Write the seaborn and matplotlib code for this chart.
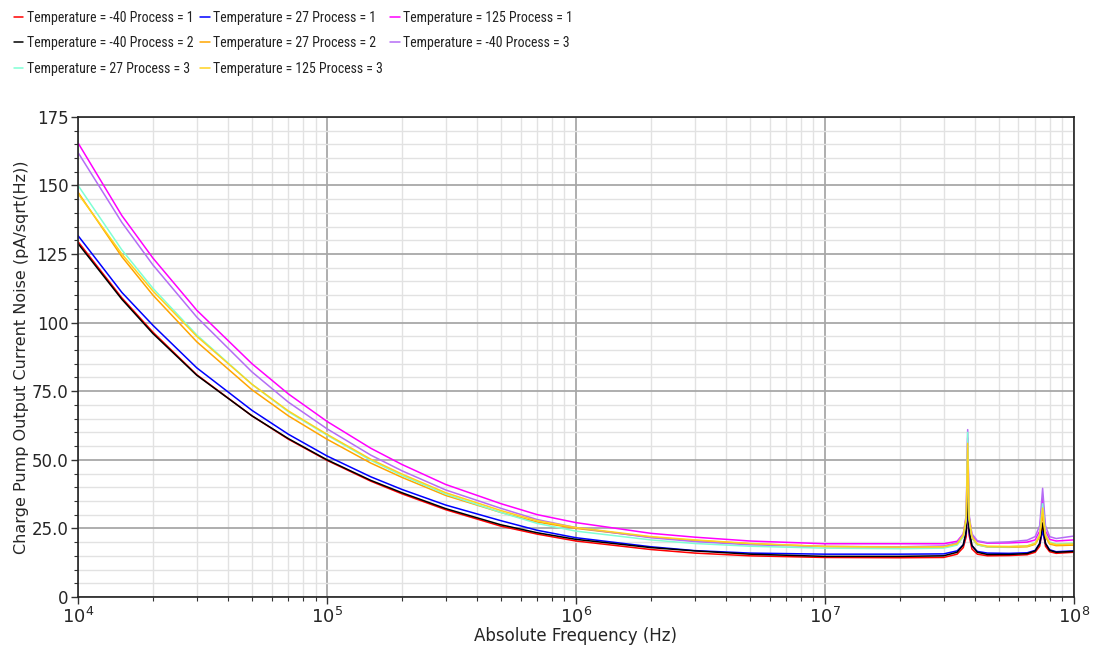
import matplotlib
matplotlib.use("Agg")
import matplotlib.pyplot as plt
from matplotlib import font_manager
from matplotlib.ticker import LogLocator, FixedLocator, NullFormatter
import numpy as np
import pandas as pd
import seaborn as sns

# ---------------- data ----------------
freq = [1e4, 1.5e4, 2e4, 3e4, 5e4, 7e4, 1e5, 1.5e5, 2e5, 3e5, 5e5, 7e5,
        1e6, 2e6, 3e6, 5e6, 1e7, 2e7, 3e7, 3.4e7, 3.6e7, 3.7e7, 3.75e7,
        3.8e7, 3.9e7, 4.1e7, 4.5e7, 5.5e7, 6.5e7, 7e7, 7.3e7, 7.5e7, 7.7e7,
        8e7, 8.5e7, 1e8]

labels = ["Temperature = -40 Process = 1", "Temperature = 27 Process = 1",
          "Temperature = 125 Process = 1", "Temperature = -40 Process = 2",
          "Temperature = 27 Process = 2", "Temperature = -40 Process = 3",
          "Temperature = 27 Process = 3", "Temperature = 125 Process = 3"]

red_m40_p1 = [129.5, 109, 96.5, 81, 66, 57.5, 49.8, 42.2, 37.6, 31.8, 25.8, 22.9,
              20.4, 17.3, 16.0, 15.0, 14.4, 14.3, 14.4, 15.6, 18.0, 22.0, 35.0,
              22.5, 17.5, 15.6, 15.0, 15.1, 15.4, 16.3, 18.5, 25.0, 18.5,
              16.5, 15.9, 16.3]
blue_27_p1 = [131.7, 111, 99, 83.5, 68, 59.3, 51.4, 43.8, 39.2, 33.5, 27.8, 24.3,
              21.6, 18.3, 16.9, 16.0, 15.6, 15.6, 15.7, 16.8, 19.0, 23.5, 34.0,
              23.5, 18.6, 16.6, 16.0, 15.9, 16.1, 17.0, 19.5, 24.0, 19.5,
              17.2, 16.5, 16.8]
mag_125_p1 = [165.5, 139, 123.5, 104.5, 85, 74, 64.0, 54.2, 48.3, 41.0, 34.0, 30.0,
              27.1, 23.2, 21.8, 20.4, 19.4, 19.4, 19.4, 20.3, 23.0, 29.0, 58.0,
              29.0, 22.5, 20.3, 19.6, 19.7, 20.0, 20.8, 24.0, 36.0, 24.0,
              21.0, 20.4, 20.8]
blk_m40_p2 = [128.8, 108.5, 96, 80.8, 66, 57.7, 50.0, 42.5, 38.0, 32.2, 26.3, 23.4,
              21.0, 18.0, 16.8, 15.6, 14.8, 14.8, 15.0, 16.3, 19.0, 24.0, 38.0,
              24.5, 18.8, 16.3, 15.5, 15.5, 15.8, 16.8, 19.5, 27.0, 19.5,
              17.0, 16.3, 16.6]
org_27_p2 = [147.5, 124, 110, 93, 75.5, 66, 57.5, 48.8, 43.6, 37.0, 30.8, 27.3,
             25.0, 21.8, 20.6, 19.4, 18.4, 18.2, 18.2, 19.2, 22.0, 28.0, 50.0,
             28.0, 21.5, 19.0, 18.2, 18.1, 18.3, 19.2, 22.0, 30.0, 22.0,
             19.3, 18.7, 18.9]
pur_m40_p3 = [162, 136.5, 121, 102, 82, 71, 61.3, 51.7, 46.0, 39.0, 32.3, 28.2,
              25.3, 21.6, 20.2, 19.0, 18.4, 18.3, 18.6, 19.8, 23.0, 30.0, 61.0,
              30.0, 23.0, 20.5, 19.8, 20.1, 20.7, 22.0, 26.0, 39.6, 26.0,
              22.0, 21.3, 22.2]
aqu_27_p3 = [150, 126.5, 112.5, 95.5, 77.5, 67.5, 59.0, 49.8, 44.3, 37.5, 30.8, 26.8,
             24.0, 20.8, 19.5, 18.5, 17.8, 17.6, 17.8, 18.9, 22.0, 28.5, 60.0,
             28.5, 21.8, 19.0, 18.3, 18.3, 18.6, 19.6, 23.0, 34.0, 23.0,
             20.0, 19.3, 19.6]
yel_125_p3 = [147, 125, 111.5, 95, 77.5, 67.8, 59.3, 50.2, 44.8, 38.0, 31.5, 27.8,
              25.3, 22.0, 20.8, 19.5, 18.4, 18.2, 18.3, 19.4, 22.5, 29.0, 56.0,
              29.0, 22.0, 19.3, 18.5, 18.4, 18.6, 19.5, 22.5, 32.4, 22.5,
              19.7, 19.1, 19.3]

series = [red_m40_p1, blue_27_p1, mag_125_p1, blk_m40_p2,
          org_27_p2, pur_m40_p3, aqu_27_p3, yel_125_p3]
colors = ["#FF0000", "#0000FF", "#FF00FF", "#000000",
          "#FFA500", "#B56CF5", "#7FFFD4", "#FFD21F"]

yticks = [0, 25, 50, 75, 100, 125, 150, 175]
ytick_labels = ["0", "25.0", "50.0", "75.0", "100", "125", "150", "175"]
xticks = [1e4, 1e5, 1e6, 1e7, 1e8]
xtick_labels = [r"$10^4$", r"$10^5$", r"$10^6$", r"$10^7$", r"$10^8$"]

rows = []
for lab, vals in zip(labels, series):
    for f, v in zip(freq, vals):
        rows.append({"freq": f, "noise": v, "series": lab})
df = pd.DataFrame(rows)

# ---------------- style ----------------
sns.set_style("white")
plt.rcParams["font.family"] = ["DejaVu Sans"]

avail = {f.name for f in font_manager.fontManager.ttflist}
legend_font = "DejaVu Sans"
for cand in ["Roboto Condensed", "Liberation Sans Narrow", "DejaVu Sans Condensed"]:
    if cand in avail:
        legend_font = cand
        break

fig = plt.figure(figsize=(10.99, 6.60), dpi=100)
ax = fig.add_axes([0.071, 0.0955, 0.906, 0.7275])

sns.lineplot(data=df, x="freq", y="noise", hue="series", hue_order=labels,
             palette=dict(zip(labels, colors)), estimator=None, sort=False,
             linewidth=1.1, ax=ax)

ax.set_xscale("log")
ax.set_xlim(1e4, 1e8)
ax.set_ylim(0, 175)

ax.xaxis.set_major_locator(FixedLocator(xticks))
ax.set_xticklabels(xtick_labels, fontsize=13)
ax.xaxis.set_minor_locator(LogLocator(base=10, subs=np.arange(2, 10), numticks=100))
ax.xaxis.set_minor_formatter(NullFormatter())
ax.set_yticks(yticks)
ax.set_yticklabels(ytick_labels, fontsize=12)
ax.yaxis.set_minor_locator(FixedLocator(np.arange(0, 176, 5)))

ax.grid(True, which="minor", color="#e2e2e2", linewidth=1.0)
ax.grid(True, which="major", color="#a8a8a8", linewidth=1.3)
ax.set_axisbelow(True)

ax.tick_params(axis="both", which="major", direction="out", length=5, width=1,
               color="#333333", bottom=True, left=True, pad=2)
ax.tick_params(axis="both", which="minor", direction="out", length=3, width=0.8,
               color="#333333", bottom=True, left=True)
for sp in ax.spines.values():
    sp.set_color("#222222")
    sp.set_linewidth(1.2)

ax.set_xlabel("Absolute Frequency (Hz)", fontsize=12, labelpad=0)
ax.set_ylabel("Charge Pump Output Current Noise (pA/sqrt(Hz))", fontsize=11.5, labelpad=2)

handles, labs = ax.get_legend_handles_labels()
ax.get_legend().remove()
# matplotlib fills legend columns first; reorder so entries read row by row
order = [0, 3, 6, 1, 4, 7, 2, 5]
handles = [handles[i] for i in order]
labs = [labs[i] for i in order]
leg = fig.legend(handles, labs, loc="upper left", bbox_to_anchor=(0.001, 1.003),
                 ncol=3, frameon=False, handlelength=0.7, handletextpad=0.25,
                 columnspacing=0.5, labelspacing=0.85,
                 prop={"family": legend_font, "size": 10})
for t in leg.get_texts():
    t.set_color("#222222")

fig.savefig("out.png", dpi=100)
